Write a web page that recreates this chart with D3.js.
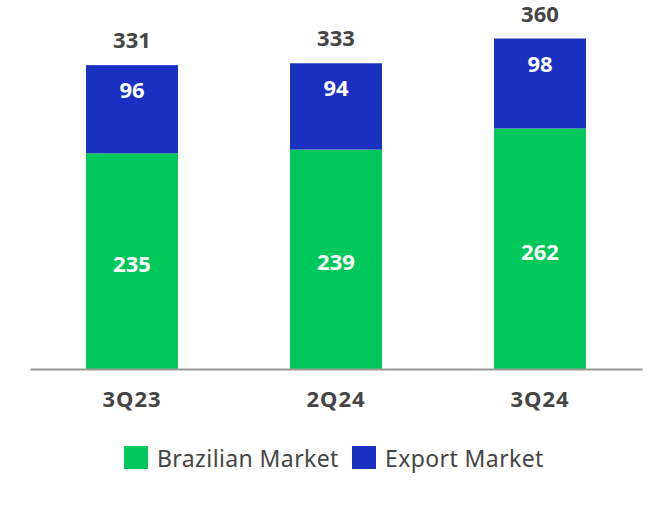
<!DOCTYPE html>
<html>
<head>
  <meta charset="UTF-8">
  <title>Sales by market</title>
  <style>
    body { margin: 0; background: #fff; }
    text { font-family: "Noto Sans", "Open Sans", sans-serif; }
    .total { font-weight: bold; fill: #454545; font-size: 22px; }
    .cat { font-weight: bold; fill: #454545; font-size: 22px; letter-spacing: 1px; }
    .inner { font-weight: bold; fill: #fff; font-size: 22px; }
    .legend { fill: #454545; font-size: 23px; letter-spacing: 0.4px; }
  </style>
</head>
<body>
<svg id="chart" width="672" height="518"></svg>
<script src="https://d3js.org/d3.v7.min.js"></script>
<script>
  // data
  var quarters = ["3Q23", "2Q24", "3Q24"];
  var brazilian = [235, 239, 262];
  var exportMkt = [96, 94, 98];
  var totals = [331, 333, 360];
  var seriesNames = ["Brazilian Market", "Export Market"];
  var seriesColors = ["#00c85a", "#1a30c2"];

  var svg = d3.select("#chart");

  // x: band scale spanning the axis line
  var xScale = d3.scaleBand()
    .domain(quarters)
    .range([30, 642])
    .paddingInner(0.549)
    .paddingOuter(0.2745);

  var yScale = d3.scaleLinear()
    .domain([0, 360])
    .range([369, 38.5]);

  // build rows for stacking
  var rows = quarters.map(function(q, i) {
    return { q: q, b: brazilian[i], e: exportMkt[i], t: totals[i] };
  });
  var stack = d3.stack().keys(["b", "e"])(rows);

  // bars
  svg.selectAll("g.series")
    .data(stack)
    .join("g")
    .attr("class", "series")
    .attr("fill", function(d, i) { return seriesColors[i]; })
    .selectAll("rect")
    .data(function(d) { return d; })
    .join("rect")
    .attr("x", function(d) { return xScale(d.data.q); })
    .attr("width", xScale.bandwidth())
    .attr("y", function(d) { return yScale(d[1]); })
    .attr("height", function(d) { return yScale(d[0]) - yScale(d[1]); });

  // x axis (line only, bold category labels)
  var xAxis = svg.append("g")
    .attr("transform", "translate(0," + yScale(0) + ")")
    .call(d3.axisBottom(xScale).tickSize(0).tickPadding(0));
  xAxis.select(".domain").attr("stroke", "#9a9a9a").attr("stroke-width", 2);
  xAxis.selectAll(".tick text")
    .attr("class", "cat")
    .attr("font-family", null)
    .attr("font-size", null)
    .attr("fill", null)
    .attr("dy", null)
    .attr("y", 38);

  var cx = function(d) { return xScale(d.q) + xScale.bandwidth() / 2; };

  // green labels, centred in the segment
  svg.selectAll("text.inb")
    .data(rows)
    .join("text")
    .attr("class", "inner")
    .attr("text-anchor", "middle")
    .attr("dominant-baseline", "central")
    .attr("x", cx)
    .attr("y", function(d) { return (yScale(0) + yScale(d.b)) / 2 + 2; })
    .text(function(d) { return d.b; });

  // blue labels, near the top of the segment
  svg.selectAll("text.ine")
    .data(rows)
    .join("text")
    .attr("class", "inner")
    .attr("text-anchor", "middle")
    .attr("x", cx)
    .attr("y", function(d) { return yScale(d.t) + 33; })
    .text(function(d) { return d.e; });

  // totals above the bars
  svg.selectAll("text.tot")
    .data(rows)
    .join("text")
    .attr("class", "total")
    .attr("text-anchor", "middle")
    .attr("x", cx)
    .attr("y", function(d) { return yScale(d.t) - 17; })
    .text(function(d) { return d.t; });

  // legend
  var legendX = [124, 352];
  var legend = svg.selectAll("g.leg")
    .data(seriesNames)
    .join("g")
    .attr("class", "leg")
    .attr("transform", function(d, i) { return "translate(" + legendX[i] + ",446)"; });
  legend.append("rect")
    .attr("width", 24)
    .attr("height", 23)
    .attr("fill", function(d, i) { return seriesColors[i]; });
  legend.append("text")
    .attr("class", "legend")
    .attr("x", 33)
    .attr("y", 21)
    .text(function(d) { return d; });
</script>
</body>
</html>
